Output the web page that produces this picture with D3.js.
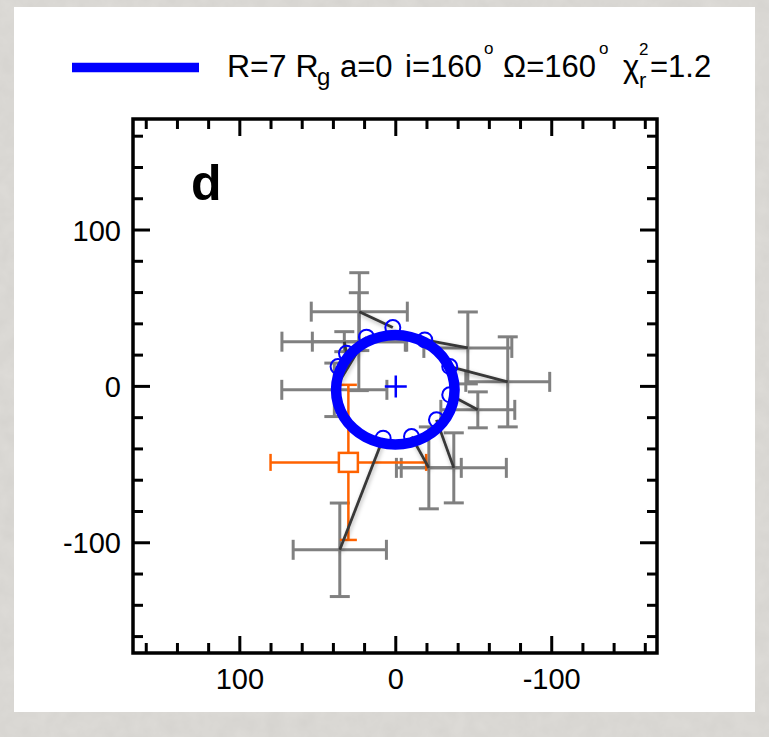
<!DOCTYPE html>
<html>
<head>
<meta charset="utf-8">
<script src="https://cdn.jsdelivr.net/npm/d3@7"></script>
<style>
  body { margin: 0; background: #dad8d4; }
  svg { display: block; }
</style>
</head>
<body>
<svg width="769" height="737"></svg>
<script>
// model orbit (ring)
const ringX = [38.3, 37.0, 33.2, 27.2, 19.3, 10.1, 0.3, -9.5, -18.7, -26.6, -32.6, -36.4,
               -37.7, -36.4, -32.6, -26.6, -18.7, -9.5, 0.3, 10.1, 19.3, 27.2, 33.2, 37.0];
const ringY = [-2.2, 6.9, 15.3, 22.5, 28.1, 31.6, 32.8, 31.6, 28.1, 22.5, 15.3, 6.9,
               -2.2, -11.3, -19.7, -26.9, -32.5, -36.0, -37.2, -36.0, -32.5, -26.9, -19.7, -11.3];

// model positions at the data epochs (open circles)
const modelX = [1.9, 18.8, 31.6, 37.0, -18.6, -34.6, -34.6, -26.1, -10.1, 8.1];
const modelY = [37.6, 31.5, 21.2, 12.7, 29.7, 12.7, -5.4, -21.4, -32.1, -33.1];

// observed positions with errors (grey), same order as the model circles
const obsX    = [23.4, 39.4, 33.0, 23.7, -46.2, -71.8, -52.6, -37.2, -21.2, 35.9];
const obsY    = [47.8, -2.2, 28.6, 28.6, 24.6, 2.9, -15.0, -52.1, -52.1, -104.5];
const obsXErr = [30.8, 33.7, 40.0, 29.8, 28.2, 26.9, 23.7, 33.7, 20.8, 29.9];
const obsYErr = [24.9, 17.1, 6.4, 31.3, 23.0, 28.8, 11.5, 22.4, 26.2, 29.9];

// reference position (orange square)
const refX = [30.4], refY = [-48.6], refXErr = [49.9], refYErr = [49.6];

const majorTicks = [-100, 0, 100];
const minorTicks = d3.range(-160, 161, 20);

const svg = d3.select('svg');

// paper texture behind the white card
const defs = svg.append('defs');
const tex = defs.append('filter').attr('id', 'tex').attr('x', 0).attr('y', 0).attr('width', 1).attr('height', 1);
tex.append('feTurbulence').attr('type', 'fractalNoise').attr('baseFrequency', 0.06).attr('numOctaves', 3).attr('seed', 4);
tex.append('feColorMatrix').attr('values', '0 0 0 0 0.45  0 0 0 0 0.44  0 0 0 0 0.42  0 0 0 0.22 0');
const shadow = defs.append('filter').attr('id', 'shadow').attr('x', -0.5).attr('y', -0.5).attr('width', 2).attr('height', 2);
shadow.append('feDropShadow').attr('dx', 1).attr('dy', 2).attr('stdDeviation', 2)
    .attr('flood-color', '#000').attr('flood-opacity', 0.3);

svg.append('rect').attr('width', 769).attr('height', 737).attr('fill', '#dedcd8');
svg.append('rect').attr('width', 769).attr('height', 737).attr('filter', 'url(#tex)');

svg.append('rect')
    .attr('x', 14).attr('y', 7)
    .attr('width', 741).attr('height', 705)
    .attr('fill', '#fff');

const x = d3.scaleLinear().domain([168.5, -167.5]).range([133, 657]);
const y = d3.scaleLinear().domain([-170.5, 171]).range([653, 119]);

const grey = '#808080';
const blue = '#0000ff';
const orange = '#ff6200';

function errorBars(g, xs, ys, exs, eys, color, cap, width) {
  xs.forEach((xv, i) => {
    const cx = x(xv), cy = y(ys[i]);
    const x0 = x(xv + exs[i]), x1 = x(xv - exs[i]);
    const y0 = y(ys[i] + eys[i]), y1 = y(ys[i] - eys[i]);
    const segs = [
      [x0, cy, x1, cy], [cx, y0, cx, y1],
      [x0, cy - cap, x0, cy + cap], [x1, cy - cap, x1, cy + cap],
      [cx - cap, y0, cx + cap, y0], [cx - cap, y1, cx + cap, y1]
    ];
    g.selectAll(null).data(segs).join('line')
        .attr('x1', d => d[0]).attr('y1', d => d[1])
        .attr('x2', d => d[2]).attr('y2', d => d[3])
        .attr('stroke', color).attr('stroke-width', width);
  });
}

const plot = svg.append('g');

errorBars(plot.append('g'), obsX, obsY, obsXErr, obsYErr, grey, 10, 3);

// orange reference
const og = plot.append('g');
errorBars(og, refX, refY, refXErr, refYErr, orange, 8.5, 2.5);
og.selectAll('rect').data(refX).join('rect')
    .attr('x', d => x(d) - 9.5).attr('y', (d, i) => y(refY[i]) - 9.5)
    .attr('width', 19).attr('height', 19)
    .attr('fill', '#fff').attr('stroke', orange).attr('stroke-width', 2.5);

// connection lines observation -> model
plot.append('g')
    .attr('filter', 'url(#shadow)')
  .selectAll('line')
  .data(d3.range(obsX.length))
  .join('line')
    .attr('x1', i => x(obsX[i])).attr('y1', i => y(obsY[i]))
    .attr('x2', i => x(modelX[i])).attr('y2', i => y(modelY[i]))
    .attr('stroke', '#383838').attr('stroke-width', 2.8);

// model ring
const ring = d3.line()
    .x(i => x(ringX[i])).y(i => y(ringY[i]))
    .curve(d3.curveCatmullRomClosed);
plot.append('path')
    .attr('d', ring(d3.range(ringX.length)))
    .attr('fill', 'none').attr('stroke', blue).attr('stroke-width', 10.5);

plot.append('g')
  .selectAll('circle')
  .data(modelX)
  .join('circle')
    .attr('cx', d => x(d)).attr('cy', (d, i) => y(modelY[i]))
    .attr('r', 7.5)
    .attr('fill', 'none').attr('stroke', blue).attr('stroke-width', 2);

// centre cross
plot.append('path')
    .attr('d', `M${x(0) - 11},${y(0)}H${x(0) + 11}M${x(0)},${y(0) - 11}V${y(0) + 11}`)
    .attr('stroke', blue).attr('stroke-width', 2.5);

// frame and ticks
svg.append('rect')
    .attr('x', 133).attr('y', 119).attr('width', 524).attr('height', 534)
    .attr('fill', 'none').attr('stroke', '#000').attr('stroke-width', 3.5);

const ticks = svg.append('g').attr('stroke', '#000').attr('stroke-width', 3);
minorTicks.forEach(t => {
  const len = majorTicks.includes(t) ? 17 : 10;
  ticks.append('line').attr('x1', x(t)).attr('x2', x(t)).attr('y1', 653).attr('y2', 653 - len);
  ticks.append('line').attr('x1', x(t)).attr('x2', x(t)).attr('y1', 119).attr('y2', 119 + len);
  ticks.append('line').attr('y1', y(t)).attr('y2', y(t)).attr('x1', 133).attr('x2', 133 + len);
  ticks.append('line').attr('y1', y(t)).attr('y2', y(t)).attr('x1', 657).attr('x2', 657 - len);
});

const font = 'Liberation Sans, Arial, sans-serif';

svg.append('g')
  .selectAll('text')
  .data(majorTicks)
  .join('text')
    .attr('x', d => x(d)).attr('y', 689)
    .attr('text-anchor', 'middle')
    .attr('font-family', font).attr('font-size', 29)
    .text(d => d);

svg.append('g')
  .selectAll('text')
  .data(majorTicks)
  .join('text')
    .attr('x', 121).attr('y', d => y(d) + 10.5)
    .attr('text-anchor', 'end')
    .attr('font-family', font).attr('font-size', 29)
    .text(d => d);

svg.append('text')
    .attr('x', 191).attr('y', 200)
    .attr('font-family', font).attr('font-size', 50).attr('font-weight', 'bold')
    .text('d');

// legend
svg.append('line')
    .attr('x1', 72).attr('x2', 199).attr('y1', 67.5).attr('y2', 67.5)
    .attr('stroke', blue).attr('stroke-width', 9.5);

const legendParts = [
  { t: 'R=7 R', x: 227, y: 77, s: 32 },
  { t: 'g',     x: 317, y: 85, s: 24 },
  { t: 'a=0',   x: 340, y: 77, s: 31 },
  { t: 'i=160', x: 405, y: 77, s: 31 },
  { t: 'o',     x: 484, y: 54, s: 17 },
  { t: 'Ω=160', x: 503, y: 77, s: 31 },
  { t: 'o',     x: 599, y: 54, s: 17 },
  { t: 'χ',     x: 623, y: 77, s: 31 },
  { t: 'r',     x: 639, y: 88, s: 22 },
  { t: '2',     x: 639, y: 55, s: 17 },
  { t: '=1.2',  x: 650, y: 77, s: 31 }
];
svg.append('g')
  .selectAll('text')
  .data(legendParts)
  .join('text')
    .attr('x', d => d.x).attr('y', d => d.y)
    .attr('font-family', font).attr('font-size', d => d.s)
    .text(d => d.t);
</script>
</body>
</html>
